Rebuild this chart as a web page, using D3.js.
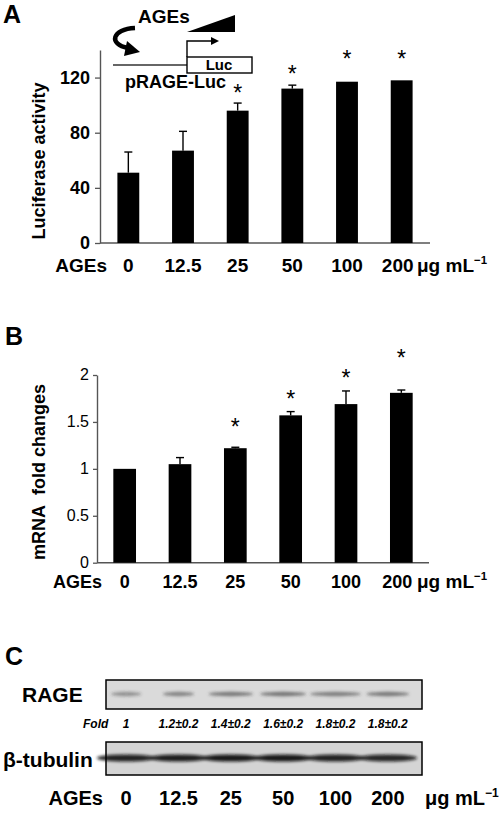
<!DOCTYPE html>
<html><head><meta charset="utf-8">
<script src="https://cdn.jsdelivr.net/npm/d3@7"></script>
<style>
html,body{margin:0;padding:0;background:#fff;}
svg{display:block;font-family:"Liberation Sans",Arial,sans-serif;}
</style></head>
<body>
<svg id="fig" width="502" height="817"></svg>
<script>
// ---------- data ----------
const categories = ["0","12.5","25","50","100","200"];
const lucValues = [51, 67, 96, 112, 117, 118];
const lucErrors = [15, 14, 5.5, 2.5, 0, 0];
const lucStars = [null, null, 113, 126.5, 137, 137];
const lucTicks = [0, 40, 80, 120];
const mrnaValues = [1.0, 1.05, 1.22, 1.57, 1.69, 1.81];
const mrnaErrors = [0, 0.07, 0.01, 0.04, 0.14, 0.03];
const mrnaStars = [null, null, 1.50, 1.80, 2.03, 2.24];
const mrnaTicks = [0, 0.5, 1, 1.5, 2];
const foldLabels = ["1", "1.2±0.2", "1.4±0.2", "1.6±0.2", "1.8±0.2", "1.8±0.2"];
const rageDensity = [0.42, 0.52, 0.58, 0.6, 0.55, 0.58];
const rageWidth = [0.58, 0.6, 0.85, 0.88, 0.98, 0.82];
const tubulinDensity = [0.9, 0.92, 0.95, 0.95, 0.9, 0.88];

const svg = d3.select("#fig");
svg.append("rect").attr("width",502).attr("height",817).attr("fill","#fff");
const axisColor = "#555";

function unitLabel(g, x, y, fs){
  const t = g.append("text").attr("x",x).attr("y",y).attr("font-size",fs).attr("font-weight","bold").text("μg mL");
  t.append("tspan").attr("dy",-fs*0.4).attr("font-size",fs*0.6).text("−1");
}
function star(g, x, y){
  const fs = 23;
  g.append("text").attr("x",x).attr("y",y+0.58*fs).attr("text-anchor","middle")
   .attr("font-size",fs).text("*");
}

// ---------- Panel A ----------
const gA = svg.append("g");
gA.append("text").attr("x",3).attr("y",23).attr("font-size",25).attr("font-weight","bold").text("A");
const xA = d3.scaleBand().domain(categories).range([101,429]).paddingInner(0.6).paddingOuter(0.3);
const yA = d3.scaleLinear().domain([0,140]).range([243,50]);

const axA = gA.append("g").attr("transform","translate(100,0)")
  .call(d3.axisLeft(yA).tickValues(lucTicks).tickSize(5).tickPadding(5).tickSizeOuter(0));
axA.select(".domain").attr("stroke",axisColor).attr("stroke-width",1.4);
axA.selectAll(".tick line").attr("stroke",axisColor).attr("stroke-width",1.3);
axA.selectAll(".tick text").attr("font-size",18).attr("font-weight","bold").attr("fill","#000")
  .attr("font-family","Liberation Sans, Arial, sans-serif");
gA.append("line").attr("x1",100).attr("x2",430).attr("y1",yA(0)).attr("y2",yA(0))
  .attr("stroke",axisColor).attr("stroke-width",1.4);

gA.selectAll("rect.bar").data(lucValues).join("rect").attr("class","bar")
  .attr("x",(d,i)=>xA(categories[i])).attr("width",xA.bandwidth())
  .attr("y",d=>yA(d)).attr("height",d=>yA(0)-yA(d)).attr("fill","#000");
lucValues.forEach((v,i)=>{
  const e = lucErrors[i]; if(!e) return;
  const cx = xA(categories[i])+xA.bandwidth()/2;
  gA.append("line").attr("x1",cx).attr("x2",cx).attr("y1",yA(v)).attr("y2",yA(v+e)).attr("stroke","#000").attr("stroke-width",1.4);
  gA.append("line").attr("x1",cx-4).attr("x2",cx+4).attr("y1",yA(v+e)).attr("y2",yA(v+e)).attr("stroke","#000").attr("stroke-width",1.4);
});
lucStars.forEach((s,i)=>{ if(s!==null) star(gA, xA(categories[i])+xA.bandwidth()/2, yA(s)); });

gA.append("text").attr("transform","translate(45,161) rotate(-90)").attr("text-anchor","middle")
  .attr("font-size",18).attr("font-weight","bold").text("Luciferase activity");
gA.append("text").attr("x",107).attr("y",272).attr("text-anchor","end").attr("font-size",19).attr("font-weight","bold").text("AGEs");
const xlabA = [0,0,0,0,0,-4];
categories.forEach((c,i)=>{
  gA.append("text").attr("x",xA(c)+xA.bandwidth()/2+xlabA[i]).attr("y",272).attr("text-anchor","middle")
    .attr("font-size",19).attr("font-weight","bold").text(c);
});
unitLabel(gA, 417, 272, 19);

// inset diagram
const ins = gA.append("g");
ins.append("text").attr("x",138).attr("y",23).attr("font-size",19).attr("font-weight","bold").text("AGEs");
ins.append("polygon").attr("points","187,32 235,15 235,32").attr("fill","#000");
ins.append("path").attr("d","M135,28 C112,29 108,44 128,48").attr("fill","none").attr("stroke","#000").attr("stroke-width",4.5);
ins.append("polygon").attr("points","140,52 127,41 124,56").attr("fill","#000");
ins.append("line").attr("x1",113).attr("x2",187).attr("y1",65).attr("y2",65).attr("stroke","#333").attr("stroke-width",1.5);
ins.append("rect").attr("x",187).attr("y",57).attr("width",65).attr("height",16).attr("fill","#fff").attr("stroke","#000").attr("stroke-width",1.4);
ins.append("text").attr("x",219).attr("y",70).attr("text-anchor","middle").attr("font-size",15).attr("font-weight","bold").text("Luc");
ins.append("path").attr("d","M187,57 V41 H212").attr("fill","none").attr("stroke","#000").attr("stroke-width",1.4);
ins.append("polygon").attr("points","219,41 211,37 211,45").attr("fill","#000");
ins.append("text").attr("x",125).attr("y",88).attr("font-size",18).attr("font-weight","bold").text("pRAGE-Luc");

// ---------- Panel B ----------
const gB = svg.append("g");
gB.append("text").attr("x",5).attr("y",345).attr("font-size",25).attr("font-weight","bold").text("B");
const xB = d3.scaleBand().domain(categories).range([97,429]).paddingInner(0.59).paddingOuter(0.295);
const yB = d3.scaleLinear().domain([0,2]).range([562.7,375]);
const axB = gB.append("g").attr("transform","translate(97,0)")
  .call(d3.axisLeft(yB).tickValues(mrnaTicks).tickFormat(d3.format("")).tickSize(4).tickPadding(4).tickSizeOuter(0));
axB.select(".domain").attr("stroke",axisColor).attr("stroke-width",1.4);
axB.selectAll(".tick line").attr("stroke",axisColor).attr("stroke-width",1.3);
axB.selectAll(".tick text").attr("font-size",16).attr("fill","#000").attr("dy","0.3em")
  .attr("font-family","Liberation Sans, Arial, sans-serif");
gB.append("line").attr("x1",97).attr("x2",429).attr("y1",yB(0)).attr("y2",yB(0))
  .attr("stroke",axisColor).attr("stroke-width",1.4);
gB.selectAll("rect.bar").data(mrnaValues).join("rect").attr("class","bar")
  .attr("x",(d,i)=>xB(categories[i])).attr("width",xB.bandwidth())
  .attr("y",d=>yB(d)).attr("height",d=>yB(0)-yB(d)).attr("fill","#000");
mrnaValues.forEach((v,i)=>{
  const e = mrnaErrors[i]; if(!e) return;
  const cx = xB(categories[i])+xB.bandwidth()/2;
  gB.append("line").attr("x1",cx).attr("x2",cx).attr("y1",yB(v)).attr("y2",yB(v+e)).attr("stroke","#000").attr("stroke-width",1.4);
  gB.append("line").attr("x1",cx-4).attr("x2",cx+4).attr("y1",yB(v+e)).attr("y2",yB(v+e)).attr("stroke","#000").attr("stroke-width",1.4);
});
mrnaStars.forEach((s,i)=>{ if(s!==null) star(gB, xB(categories[i])+xB.bandwidth()/2, yB(s)); });
gB.append("text").attr("transform","translate(45,472) rotate(-90)").attr("text-anchor","middle")
  .attr("font-size",18).attr("font-weight","bold").text("mRNA\u00A0 fold changes");
gB.append("text").attr("x",102).attr("y",587.5).attr("text-anchor","end").attr("font-size",18).attr("font-weight","bold").text("AGEs");
categories.forEach((c,i)=>{
  gB.append("text").attr("x",xB(c)+xB.bandwidth()/2+xlabA[i]).attr("y",587.5).attr("text-anchor","middle")
    .attr("font-size",18).attr("font-weight","bold").text(c);
});
unitLabel(gB, 417, 587.5, 19);

// ---------- Panel C ----------
const gC = svg.append("g");
gC.append("text").attr("x",5).attr("y",665).attr("font-size",25).attr("font-weight","bold").text("C");
const defs = svg.append("defs");
defs.append("filter").attr("id","blur").attr("x","-20%").attr("y","-100%").attr("width","140%").attr("height","300%")
  .append("feGaussianBlur").attr("stdDeviation",1.6);
const xC = d3.scaleBand().domain(categories).range([100,414]);

// RAGE blot
gC.append("text").attr("x",22).attr("y",702).attr("font-size",21).attr("font-weight","bold").text("RAGE");
gC.append("rect").attr("x",106).attr("y",680).attr("width",316).attr("height",29).attr("fill","#dadada");
const rageG = gC.append("g").attr("filter","url(#blur)");
rageDensity.forEach((d,i)=>{
  const cx = xC(categories[i])+xC.bandwidth()/2;
  rageG.append("ellipse").attr("cx",cx).attr("cy",694).attr("rx",xC.step()*rageWidth[i]/2).attr("ry",2.2)
    .attr("fill","#333").attr("opacity",d);
});
gC.append("rect").attr("x",106).attr("y",680).attr("width",316).attr("height",29).attr("fill","none").attr("stroke","#000").attr("stroke-width",1.5);

gC.append("text").attr("x",83).attr("y",728).attr("font-size",12).attr("font-weight","bold").attr("font-style","italic").text("Fold");
foldLabels.forEach((f,i)=>{
  gC.append("text").attr("x",xC(categories[i])+xC.bandwidth()/2).attr("y",728).attr("text-anchor","middle")
    .attr("font-size",12).attr("font-weight","bold").attr("font-style","italic").text(f);
});

// tubulin blot
gC.append("text").attr("x",3).attr("y",767).attr("font-size",21).attr("font-weight","bold").text("β-tubulin");
gC.append("rect").attr("x",106).attr("y",742).attr("width",316).attr("height",33).attr("fill","#d4d4d4");
const tubG = gC.append("g").attr("filter","url(#blur)");
tubulinDensity.forEach((d,i)=>{
  const cx = xC(categories[i])+xC.bandwidth()/2;
  tubG.append("ellipse").attr("cx",cx).attr("cy",758).attr("rx",xC.step()*0.56).attr("ry",3.6)
    .attr("fill","#111").attr("opacity",d);
});
gC.append("rect").attr("x",106).attr("y",742).attr("width",316).attr("height",33).attr("fill","none").attr("stroke","#000").attr("stroke-width",1.5);

gC.append("text").attr("x",103).attr("y",805).attr("text-anchor","end").attr("font-size",20).attr("font-weight","bold").text("AGEs");
categories.forEach((c,i)=>{
  gC.append("text").attr("x",xC(c)+xC.bandwidth()/2).attr("y",805).attr("text-anchor","middle")
    .attr("font-size",20).attr("font-weight","bold").text(c);
});
unitLabel(gC, 425, 805, 20);
</script>
</body></html>
